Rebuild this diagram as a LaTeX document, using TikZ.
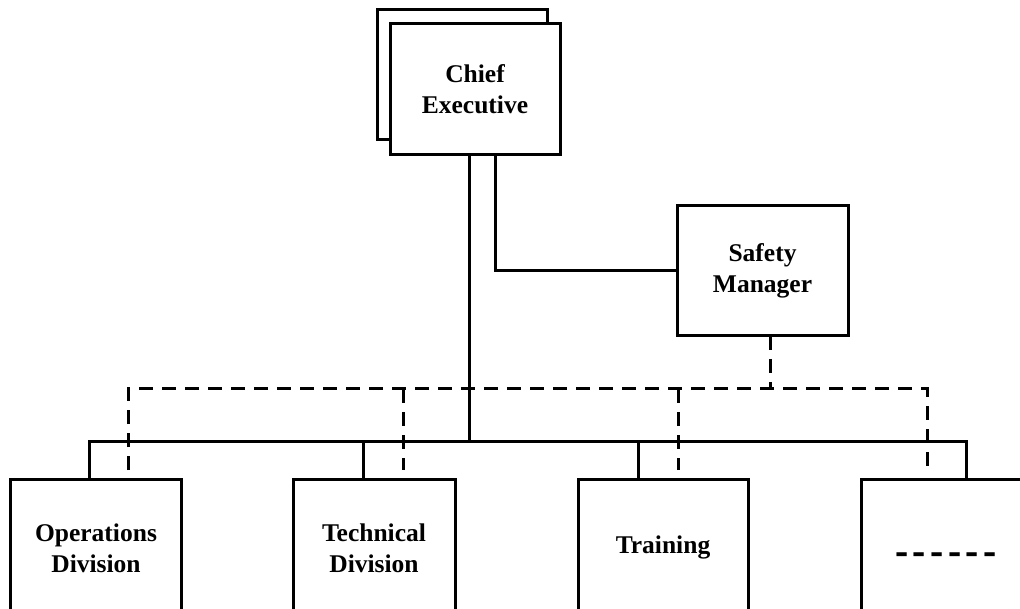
\documentclass[tikz,border=0pt]{standalone}
\usepackage{graphicx}
\usepackage{fontspec}
\setmainfont{Liberation Serif}
\newcommand{\blankdash}{\scalebox{1.55}[1.8]{-}}
\begin{document}
\begin{tikzpicture}[x=1pt,y=-1pt,
  box/.style={draw,line width=3pt,fill=white,anchor=north west,inner sep=0pt,outer sep=0pt},
  wire/.style={line width=3pt},
  dashwire/.style={line width=3pt,dash pattern=on 14pt off 9pt},
  lbl/.style={font=\bfseries\fontsize{25.5}{31}\selectfont,align=center,inner sep=0pt}]
\useasboundingbox (0,0) rectangle (1020,609);
\clip (0,0) rectangle (1020,609);

% chief executive (stacked boxes)
\node[box,minimum width=170pt,minimum height=130pt] (chiefback) at (377,10) {};
\node[box,minimum width=170pt,minimum height=131pt] (chief) at (390,24) {};
\node[lbl] (chieftxt) at (chief.center) {Chief\\Executive};

% safety manager
\node[box,minimum width=171pt,minimum height=130pt] (safety) at (677,206) {};
\node[lbl] (safetytxt) at (safety.center) {Safety\\Manager};

% divisions
\node[box,minimum width=171pt,minimum height=170pt] (ops) at (10,479) {};
\node[box,minimum width=162pt,minimum height=170pt] (tech) at (293,479) {};
\node[box,minimum width=170pt,minimum height=170pt] (train) at (578,479) {};
\node[box,minimum width=171pt,minimum height=170pt] (other) at (861,479) {};
\node[lbl] (opstxt) at (96,548) {Operations\\Division};
\node[lbl] (techtxt) at (374,548) {Technical\\Division};
\node[lbl] (traintxt) at (663,547) {Training};
\node[lbl,anchor=base] (othertxt) at (946,565)
  {\blankdash\kern4.5pt\blankdash\kern4.5pt\blankdash\kern4.5pt\blankdash\kern4.5pt\blankdash\kern4.5pt\blankdash};

% line of command
\coordinate (busL) at (89,441);
\coordinate (busR) at (966,441);
\coordinate (busC) at (469,441);
\coordinate (techj) at (363,441);
\coordinate (trainj) at (638,441);
\coordinate (sfcorner) at (495,271);
\draw[wire] (ops.north -| busL) -- (busL) -- (busR) -- (other.north -| busR);
\draw[wire] (chief.south -| busC) -- (busC);
\draw[wire] (techj) -- (tech.north -| techj);
\draw[wire] (trainj) -- (train.north -| trainj);
\draw[wire] (chief.south -| sfcorner) -- (sfcorner) -- (sfcorner -| safety.west);

% safety reporting lines
\coordinate (dL) at (128,389);
\coordinate (dR) at (927,389);
\coordinate (dS) at (770,389);
\coordinate (d1) at (403,389);
\coordinate (d2) at (678,389);
\coordinate (dLe) at (128,470);
\coordinate (dRe) at (927,470);
\coordinate (d1e) at (403,470);
\coordinate (d2e) at (678,470);
\draw[dashwire] (dLe) -- (dL) -- (dR) -- (dRe);
\draw[dashwire] (safety.south -| dS) -- (dS);
\draw[dashwire] (d1) -- (d1e);
\draw[dashwire] (d2) -- (d2e);
\end{tikzpicture}
\end{document}
